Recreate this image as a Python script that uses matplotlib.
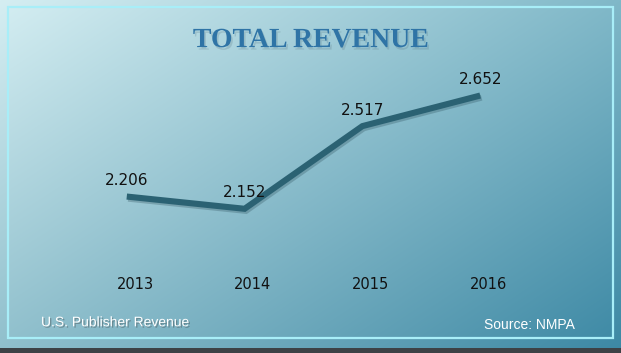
import numpy as np
import matplotlib.pyplot as plt
import matplotlib.patheffects as pe
from matplotlib.patches import Rectangle

# data
years = [2013, 2014, 2015, 2016]
revenue = [2.206, 2.152, 2.517, 2.652]
labels = ["2.206", "2.152", "2.517", "2.652"]

W, H = 621, 353
fig = plt.figure(figsize=(W / 100, H / 100), dpi=100)

# background gradient (bilinear between corner colours)
bg = fig.add_axes([0, 0, 1, 1])
bg.set_axis_off()
tl = np.array([213, 238, 242]) / 255
tr = np.array([128, 184, 200]) / 255
bl = np.array([143, 191, 204]) / 255
br = np.array([60, 136, 164]) / 255
u = np.linspace(0, 1, W)[None, :, None]
v = np.linspace(0, 1, H)[:, None, None]
grad = (1 - u) * (1 - v) * tl + u * (1 - v) * tr + (1 - u) * v * bl + u * v * br
bg.imshow(grad, extent=[0, W, H, 0], aspect="auto")
bg.set_xlim(0, W)
bg.set_ylim(H, 0)
# dark strip at the bottom
bg.add_patch(Rectangle((0, 348), W, 5, color="#3d4145", lw=0))
# light frame
bg.add_patch(Rectangle((8, 7), 605, 331, fill=False, ec="#a8eef8", lw=1.6))

ax = fig.add_axes([0, 0, 1, 1])
ax.set_axis_off()
ax.patch.set_alpha(0)
ax.set_xlim(2011.924, 2017.195)
ax.set_ylim(1.5153, 3.0738)

ax.plot(years, revenue, color="#2b6273", lw=4.4, solid_joinstyle="miter",
        solid_capstyle="butt",
        path_effects=[pe.SimpleLineShadow(offset=(1, -1.5), shadow_color="#1a3a45", alpha=0.25),
                      pe.Normal()])

for x, y, s in zip(years, revenue, labels):
    ax.annotate(s, (x, y), xytext=(0, 6), textcoords="offset points",
                ha="center", va="bottom", fontsize=11, color="#111111",
                family="DejaVu Sans")

for x in years:
    ax.text(x + 0.07, 0.195, str(x), transform=ax.get_xaxis_transform(),
            ha="center", va="center", fontsize=10.5, color="#111111",
            family="DejaVu Sans")

fig.text(0.5, 0.885, "TOTAL REVENUE", ha="center", va="center",
         fontsize=20, fontweight="bold", family="Liberation Serif", color="#2f74a6",
         path_effects=[pe.withSimplePatchShadow(offset=(1.2, -1.8), shadow_rgbFace="#5a7a88", alpha=0.25)])

fig.text(0.066, 0.087, "U.S. Publisher Revenue", ha="left", va="center",
         fontsize=10, family="Liberation Sans", color="white",
         path_effects=[pe.withSimplePatchShadow(offset=(1, -1), shadow_rgbFace="#333333", alpha=0.35)])
fig.text(0.926, 0.078, "Source: NMPA", ha="right", va="center",
         fontsize=10, family="Liberation Sans", color="white")

fig.savefig("out.png", dpi=100)
